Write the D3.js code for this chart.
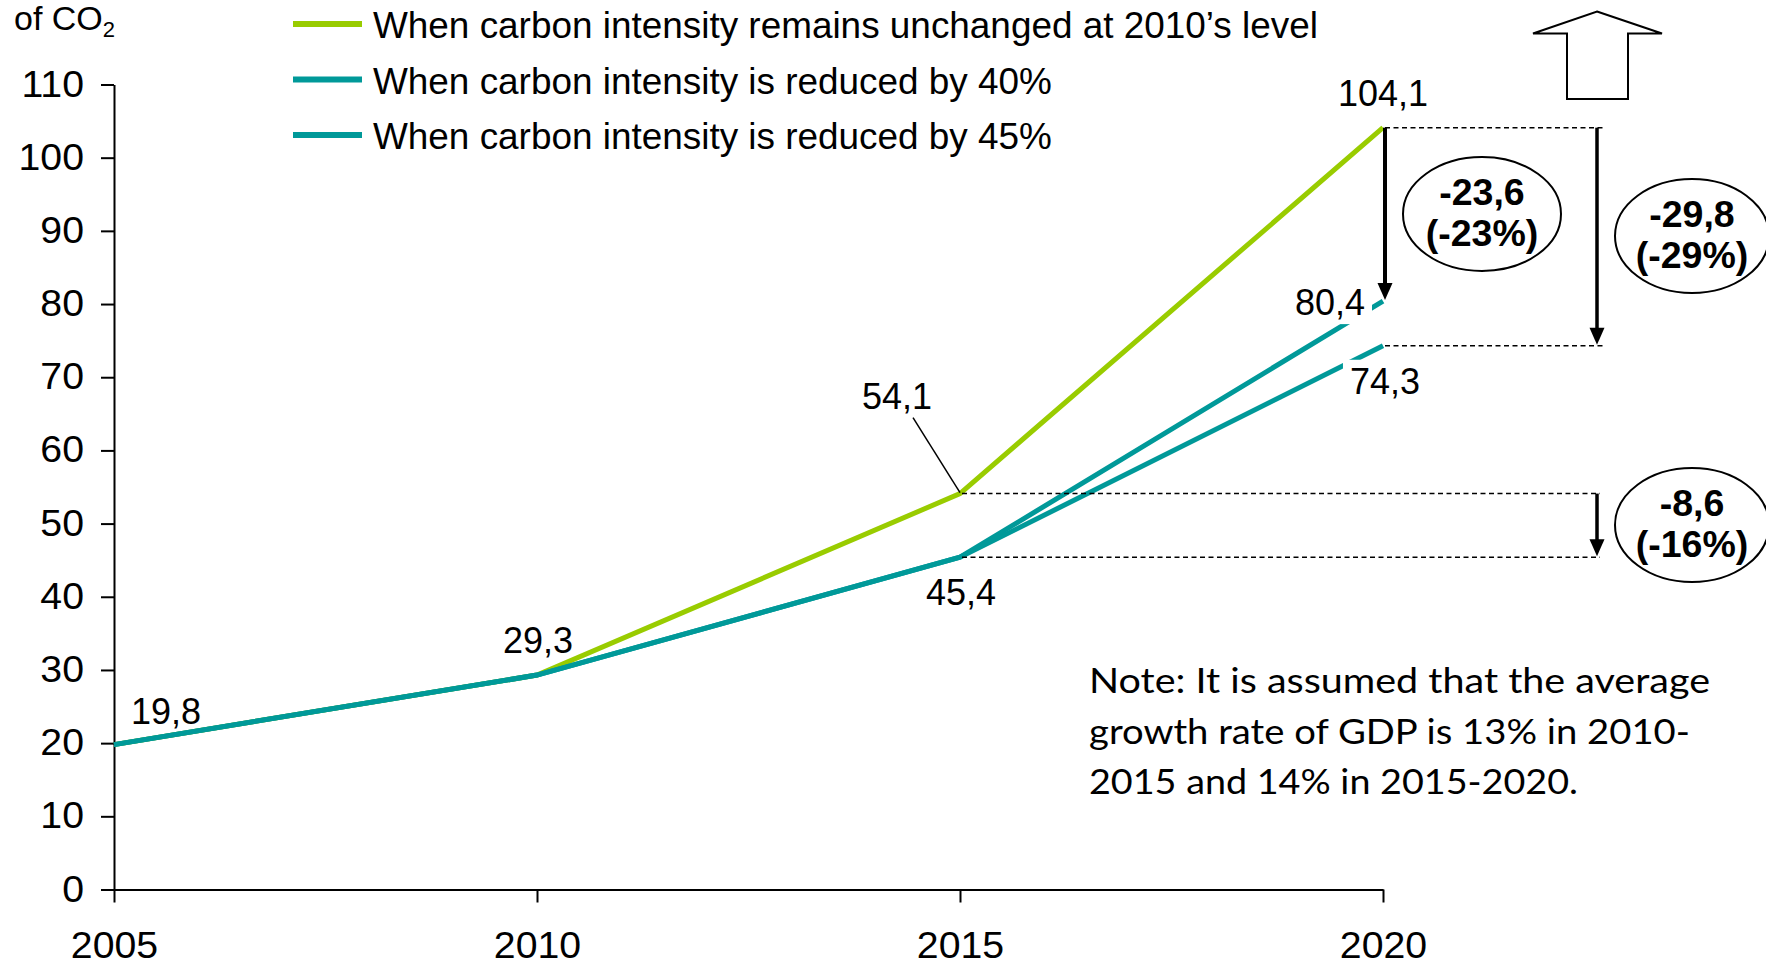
<!DOCTYPE html>
<html>
<head>
<meta charset="utf-8">
<script src="https://cdn.jsdelivr.net/npm/d3@7"></script>
<style>
  html, body { margin: 0; padding: 0; background: #fff; }
  svg { display: block; }
  .sans { font-family: "Liberation Sans", Arial, sans-serif; }
</style>
</head>
<body>
<svg id="chart" width="1766" height="963"></svg>
<script>
// ---- data ----
const years = [2005, 2010, 2015, 2020];
const unchanged = [19.8, 29.3, 54.1, 104.1];
const reduced40 = [19.8, 29.3, 45.4, 80.4];
const reduced45 = [19.8, 29.3, 45.4, 74.3];
const yTicks = [0, 10, 20, 30, 40, 50, 60, 70, 80, 90, 100, 110];
const seriesNames = [
  "When carbon intensity remains unchanged at 2010\u2019s level",
  "When carbon intensity is reduced by 40%",
  "When carbon intensity is reduced by 45%"
];
const gapLabels = [["-23,6", "(-23%)"], ["-29,8", "(-29%)"], ["-8,6", "(-16%)"]];
const noteLines = [
  "Note: It is assumed that the average",
  "growth rate of GDP is 13% in 2010-",
  "2015 and 14% in 2015-2020."
];

// ---- layout ----
const GREEN = "#99CC00", TEAL = "#009999";
const svg = d3.select("#chart");
const x = d3.scaleLinear().domain([2005, 2020]).range([114, 1383]);
const y = d3.scaleLinear().domain([0, 110]).range([889.5, 84.5]);
const fmt = v => d3.format(".1f")(v).replace(".", ",");

// widen text horizontally by a factor while keeping its height
function widen(sel, k) {
  sel.each(function () {
    const w = this.getComputedTextLength();
    d3.select(this).attr("textLength", w * k).attr("lengthAdjust", "spacingAndGlyphs");
  });
}

// axes
const yAxis = svg.append("g").attr("class", "sans")
  .attr("transform", `translate(${x(2005)},0)`)
  .call(d3.axisLeft(y).tickValues(yTicks).tickSize(13).tickSizeOuter(0).tickPadding(17));
const xAxis = svg.append("g").attr("class", "sans")
  .attr("transform", `translate(0,${y(0)})`)
  .call(d3.axisBottom(x).tickValues(years).tickFormat(d3.format("d"))
    .tickSize(13).tickSizeOuter(0).tickPadding(30));
[yAxis, xAxis].forEach(g => {
  g.attr("font-size", null).attr("font-family", null);
  g.selectAll("text").style("font-size", "36px").attr("fill", "#000");
  g.selectAll("line, path").attr("stroke", "#000").attr("stroke-width", 2);
  widen(g.selectAll("text"), 1.09);
});

// unit label (partly above the top edge)
const unit = svg.append("text").attr("class", "sans")
  .attr("x", 14).attr("y", 30).style("font-size", "34px");
unit.append("tspan").text("of CO");
unit.append("tspan").attr("dy", 7).style("font-size", "22px").text("2");

// series lines
const line = d3.line().x((d, i) => x(years[i])).y(d => y(d));
const series = [
  { values: unchanged, color: GREEN },
  { values: reduced40, color: TEAL },
  { values: reduced45, color: TEAL }
];
svg.append("g").selectAll("path").data(series).join("path")
  .attr("d", d => line(d.values))
  .attr("fill", "none")
  .attr("stroke", d => d.color)
  .attr("stroke-width", 5);

// legend
const legend = svg.append("g").attr("class", "sans");
seriesNames.forEach((name, i) => {
  const ly = 24 + i * 55.5;
  legend.append("line").attr("x1", 293).attr("x2", 362).attr("y1", ly).attr("y2", ly)
    .attr("stroke", series[i].color).attr("stroke-width", 6);
  const t = legend.append("text").attr("x", 373).attr("y", ly + 14.3)
    .style("font-size", "36px").text(name);
  widen(t, 1.025);
});

// dashed reference lines
const dashed = svg.append("g").attr("stroke", "#000").attr("stroke-width", 1.5)
  .attr("stroke-dasharray", "5,3.5");
[[2020, unchanged[3], 1605], [2020, reduced45[3], 1605],
 [2015, unchanged[2], 1600], [2015, reduced40[2], 1600]].forEach(([yr, v, x2]) => {
  dashed.append("line").attr("x1", x(yr) + 2).attr("x2", x2)
    .attr("y1", y(v)).attr("y2", y(v));
});

// value labels
const labels = svg.append("g").attr("class", "sans");
const placements = [
  { s: reduced40, i: 0, dx: 52, dy: -21, anchor: "middle" },
  { s: reduced40, i: 1, dx: 1, dy: -22, anchor: "middle" },
  { s: unchanged, i: 2, dx: -63, dy: -85, anchor: "middle", leader: true },
  { s: reduced40, i: 2, dx: 1, dy: 47.5, anchor: "middle" },
  { s: unchanged, i: 3, dx: 0, dy: -22, anchor: "middle" },
  { s: reduced40, i: 3, dx: -18, dy: 14, anchor: "end", bg: true },
  { s: reduced45, i: 3, dx: 2, dy: 48, anchor: "middle", bg: true }
];
placements.forEach(p => {
  const px = x(years[p.i]), py = y(p.s[p.i]);
  const g = labels.append("g");
  const t = g.append("text").attr("x", px + p.dx).attr("y", py + p.dy)
    .attr("text-anchor", p.anchor).style("font-size", "36px").text(fmt(p.s[p.i]));
  if (p.bg) {
    const b = t.node().getBBox();
    g.insert("rect", "text").attr("x", b.x - 7).attr("y", b.y - 1)
      .attr("width", b.width + 14).attr("height", b.height + 2).attr("fill", "#fff");
  }
  if (p.leader) {
    g.append("line").attr("x1", px + p.dx + 16).attr("y1", py + p.dy + 9)
      .attr("x2", px).attr("y2", py - 1).attr("stroke", "#000").attr("stroke-width", 1.5);
  }
});

// down arrows between scenarios
function downArrow(ax, v1, v2, w) {
  const y1 = y(v1), y2 = y(v2) - 1, head = 17, hw = 7.5;
  svg.append("line").attr("x1", ax).attr("x2", ax).attr("y1", y1).attr("y2", y2 - head + 2)
    .attr("stroke", "#000").attr("stroke-width", w);
  svg.append("path")
    .attr("d", `M${ax - hw},${y2 - head}L${ax + hw},${y2 - head}L${ax},${y2}Z`)
    .attr("fill", "#000");
}
downArrow(x(2020) + 2, unchanged[3], reduced40[3], 4);
downArrow(1597, unchanged[3], reduced45[3], 3.5);
downArrow(1597, unchanged[2], reduced40[2], 3.5);

// ellipses with the reductions
const bubbles = [
  { cx: 1482, cy: 214, rx: 79, ry: 57 },
  { cx: 1692, cy: 236, rx: 77, ry: 57 },
  { cx: 1692, cy: 525, rx: 77, ry: 57 }
];
const bub = svg.append("g").attr("class", "sans");
gapLabels.forEach((lines, i) => {
  const b = bubbles[i];
  bub.append("ellipse").attr("cx", b.cx).attr("cy", b.cy).attr("rx", b.rx).attr("ry", b.ry)
    .attr("fill", "#fff").attr("stroke", "#000").attr("stroke-width", 2);
  lines.forEach((s, j) => {
    bub.append("text").attr("x", b.cx).attr("y", b.cy - 9 + j * 40.5)
      .attr("text-anchor", "middle").style("font-size", "37.5px").style("font-weight", "bold")
      .text(s);
  });
});

// hollow upward block arrow
svg.append("path")
  .attr("d", "M1597,11.5L1662,33.5L1628,33.5L1628,99L1567,99L1567,33.5L1533,33.5Z")
  .attr("fill", "#fff").attr("stroke", "#000").attr("stroke-width", 2);

// note
const note = svg.append("g");
const noteWidths = [621, 601, 489];
noteLines.forEach((s, i) => {
  note.append("text").attr("x", 1089).attr("y", 693 + i * 50.7)
    .style("font-family", "Lato, 'Open Sans', sans-serif").style("font-size", "34px")
    .attr("textLength", noteWidths[i]).attr("lengthAdjust", "spacingAndGlyphs")
    .text(s);
});
</script>
</body>
</html>
